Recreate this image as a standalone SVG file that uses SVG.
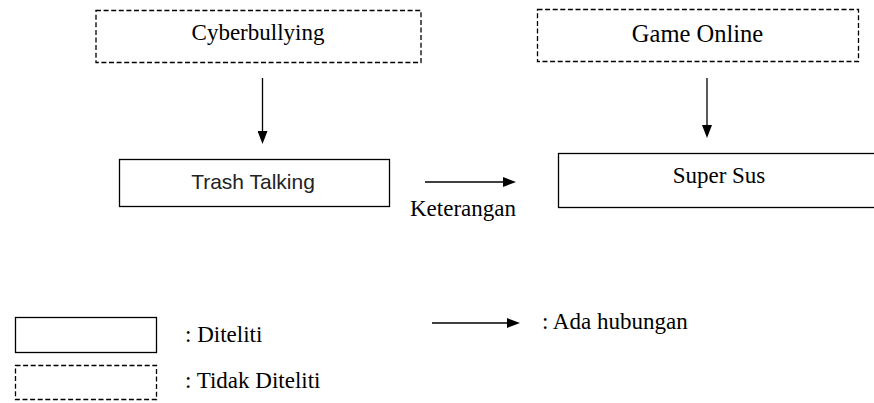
<svg xmlns="http://www.w3.org/2000/svg" width="874" height="403" viewBox="0 0 874 403">
  <defs>
    <marker id="arrow" markerUnits="userSpaceOnUse" markerWidth="13" markerHeight="10" refX="0" refY="5" orient="auto">
      <path d="M0,0 L13,5 L0,10 z" fill="#000"/>
    </marker>
    <style>
      .box { fill: #fff; stroke: #000; stroke-width: 1.3; }
      .dashed { fill: #fff; stroke: #000; stroke-width: 1.3; stroke-dasharray: 5 2.6; }
      .serif { font-family: 'Liberation Serif', 'Times New Roman', 'DejaVu Serif', serif; font-size: 23px; fill: #000; }
      .sans { font-family: 'Liberation Sans', Arial, sans-serif; font-size: 21px; fill: #222; }
      .conn { stroke: #000; stroke-width: 1.3; fill: none; }
    </style>
  </defs>
  <rect width="874" height="403" fill="#fff"/>

  <g id="cyberbullying">
    <rect class="dashed" x="96" y="10.5" width="325" height="52"/>
    <text class="serif" x="258" y="39.5" text-anchor="middle">Cyberbullying</text>
  </g>

  <g id="game-online">
    <rect class="dashed" x="537.5" y="9.5" width="321" height="52"/>
    <text class="serif" style="font-size:24.5px" x="697.5" y="41.5" text-anchor="middle">Game Online</text>
  </g>

  <g id="trash-talking">
    <rect class="box" x="119.5" y="159.5" width="270" height="47"/>
    <text class="sans" x="253" y="188.5" text-anchor="middle">Trash Talking</text>
  </g>

  <g id="super-sus">
    <rect class="box" x="558.5" y="153.5" width="330" height="54"/>
    <text class="serif" x="719" y="183" text-anchor="middle">Super Sus</text>
  </g>

  <g id="connectors">
    <line class="conn" x1="262.5" y1="78" x2="262.5" y2="131" marker-end="url(#arrow)"/>
    <line class="conn" x1="707" y1="78" x2="707" y2="125" marker-end="url(#arrow)"/>
    <line class="conn" x1="425" y1="182" x2="503" y2="182" marker-end="url(#arrow)"/>
  </g>

  <g id="keterangan">
    <text class="serif" x="410" y="216">Keterangan</text>
  </g>

  <g id="legend">
    <rect class="box" x="15.5" y="317.5" width="141" height="35"/>
    <text class="serif" x="185" y="342">: Diteliti</text>
    <rect class="dashed" x="15.5" y="365.5" width="141" height="34"/>
    <text class="serif" x="185" y="388">: Tidak Diteliti</text>
    <line class="conn" x1="432" y1="323" x2="507" y2="323" marker-end="url(#arrow)"/>
    <text class="serif" x="542" y="329">: Ada hubungan</text>
  </g>
</svg>
